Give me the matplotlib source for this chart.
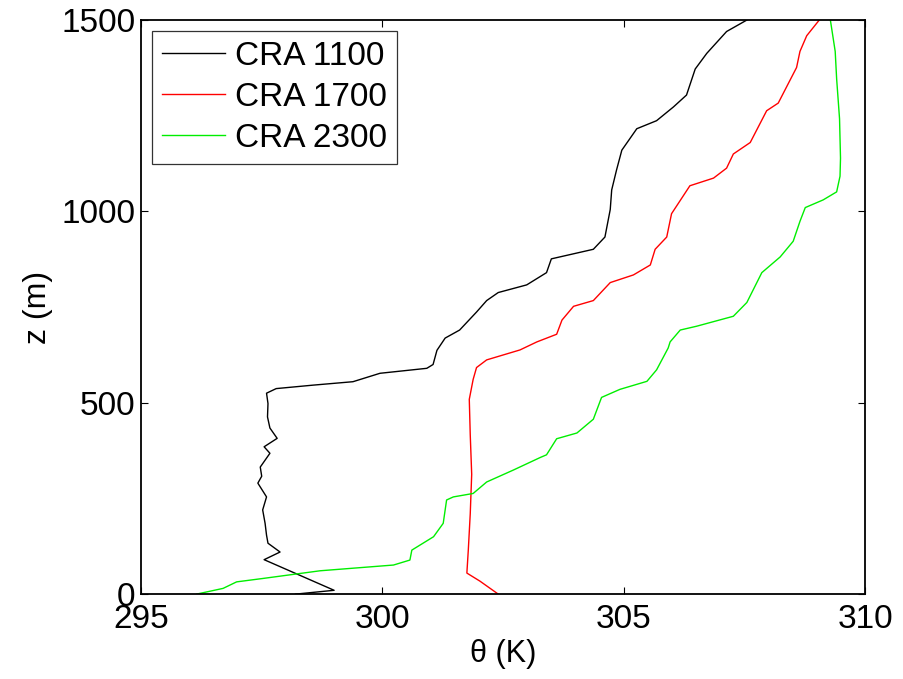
import matplotlib.pyplot as plt

plt.rcParams['font.family'] = ['Liberation Sans', 'DejaVu Sans']

# CRA 1100
theta_1100 = [298.2, 299.0, 297.55, 297.88, 297.63, 297.6, 297.57, 297.52, 297.6, 297.42,
              297.5, 297.47, 297.67, 297.55, 297.82, 297.67, 297.62, 297.63, 297.6, 297.8,
              298.56, 299.39, 299.95, 300.92, 301.05, 301.13, 301.3, 301.6, 301.95, 302.16,
              302.4, 302.99, 303.4, 303.5, 304.37, 304.61, 304.72, 304.75, 304.85, 304.96,
              305.27, 305.68, 306.03, 306.3, 306.48, 306.72, 307.13, 307.55]
z_1100 = [0, 10, 90, 110, 133, 154, 185, 220, 254, 290,
          308, 332, 368, 385, 407, 434, 463, 498, 525, 537,
          546, 555, 577, 590, 600, 637, 669, 690, 737, 767,
          788, 808, 840, 876, 901, 933, 1005, 1056, 1108, 1160,
          1216, 1237, 1273, 1304, 1372, 1413, 1470, 1500]

# CRA 1700
theta_1700 = [302.4, 302.02, 301.75, 301.78, 301.82, 301.85, 301.82, 301.8, 301.88, 301.95,
              302.16, 302.85, 303.2, 303.61, 303.72, 303.96, 304.37, 304.72, 305.2, 305.55,
              305.65, 305.89, 305.99, 306.37, 306.86, 307.13, 307.27, 307.62, 307.96, 308.2,
              308.58, 308.65, 308.79, 309.05]
z_1700 = [0, 34, 55, 116, 210, 313, 416, 509, 561, 592,
          612, 638, 659, 679, 716, 752, 767, 814, 834, 860,
          901, 933, 994, 1067, 1087, 1113, 1150, 1180, 1263, 1283,
          1376, 1418, 1459, 1500]

# CRA 2300
theta_2300 = [296.15, 296.7, 296.98, 297.53, 298.71, 300.23, 300.57, 300.61, 301.06, 301.26,
              301.33, 301.47, 301.88, 302.16, 302.71, 303.27, 303.4, 303.61, 304.03, 304.37,
              304.54, 304.92, 305.48, 305.68, 305.92, 305.96, 306.17, 306.51, 307.27, 307.55,
              307.86, 308.24, 308.51, 308.65, 308.76, 309.13, 309.41, 309.48, 309.49, 309.47,
              309.41, 309.38, 309.33, 309.28]
z_2300 = [0, 15, 32, 41, 61, 76, 89, 115, 150, 185,
          246, 254, 263, 293, 324, 357, 364, 406, 421, 457,
          514, 535, 556, 586, 643, 659, 690, 700, 726, 762,
          840, 881, 922, 974, 1010, 1030, 1051, 1092, 1139, 1242,
          1346, 1418, 1459, 1500]

fig = plt.figure(figsize=(9.04, 6.79), dpi=100)
ax = fig.add_axes([0.156, 0.125, 0.801, 0.8455])

ax.plot(theta_1100, z_1100, color='black', lw=1.0, label='CRA 1100')
ax.plot(theta_1700, z_1700, color='#ff0000', lw=1.0, label='CRA 1700')
ax.plot(theta_2300, z_2300, color='#00ee00', lw=1.0, label='CRA 2300')

ax.set_xlim(295, 310)
ax.set_ylim(0, 1500)
ax.set_xticks([295, 300, 305, 310])
ax.set_yticks([0, 500, 1000, 1500])
ax.tick_params(direction='in', length=5, labelsize=24, top=True, right=True)
ax.tick_params(axis='x', pad=7)
ax.tick_params(axis='y', pad=4)
ax.set_xlabel('θ (K)', fontsize=22, labelpad=3)
ax.set_ylabel('z (m)', fontsize=23, labelpad=6)
for s in ax.spines.values():
    s.set_linewidth(1.3)

leg = ax.legend(loc='upper left', fontsize=24, frameon=True, fancybox=False,
                edgecolor='black', handlelength=1.9, borderpad=0.3, labelspacing=0.3,
                handletextpad=0.3, borderaxespad=0.33)
leg.get_frame().set_linewidth(0.9)

fig.savefig('out.png', dpi=100)
